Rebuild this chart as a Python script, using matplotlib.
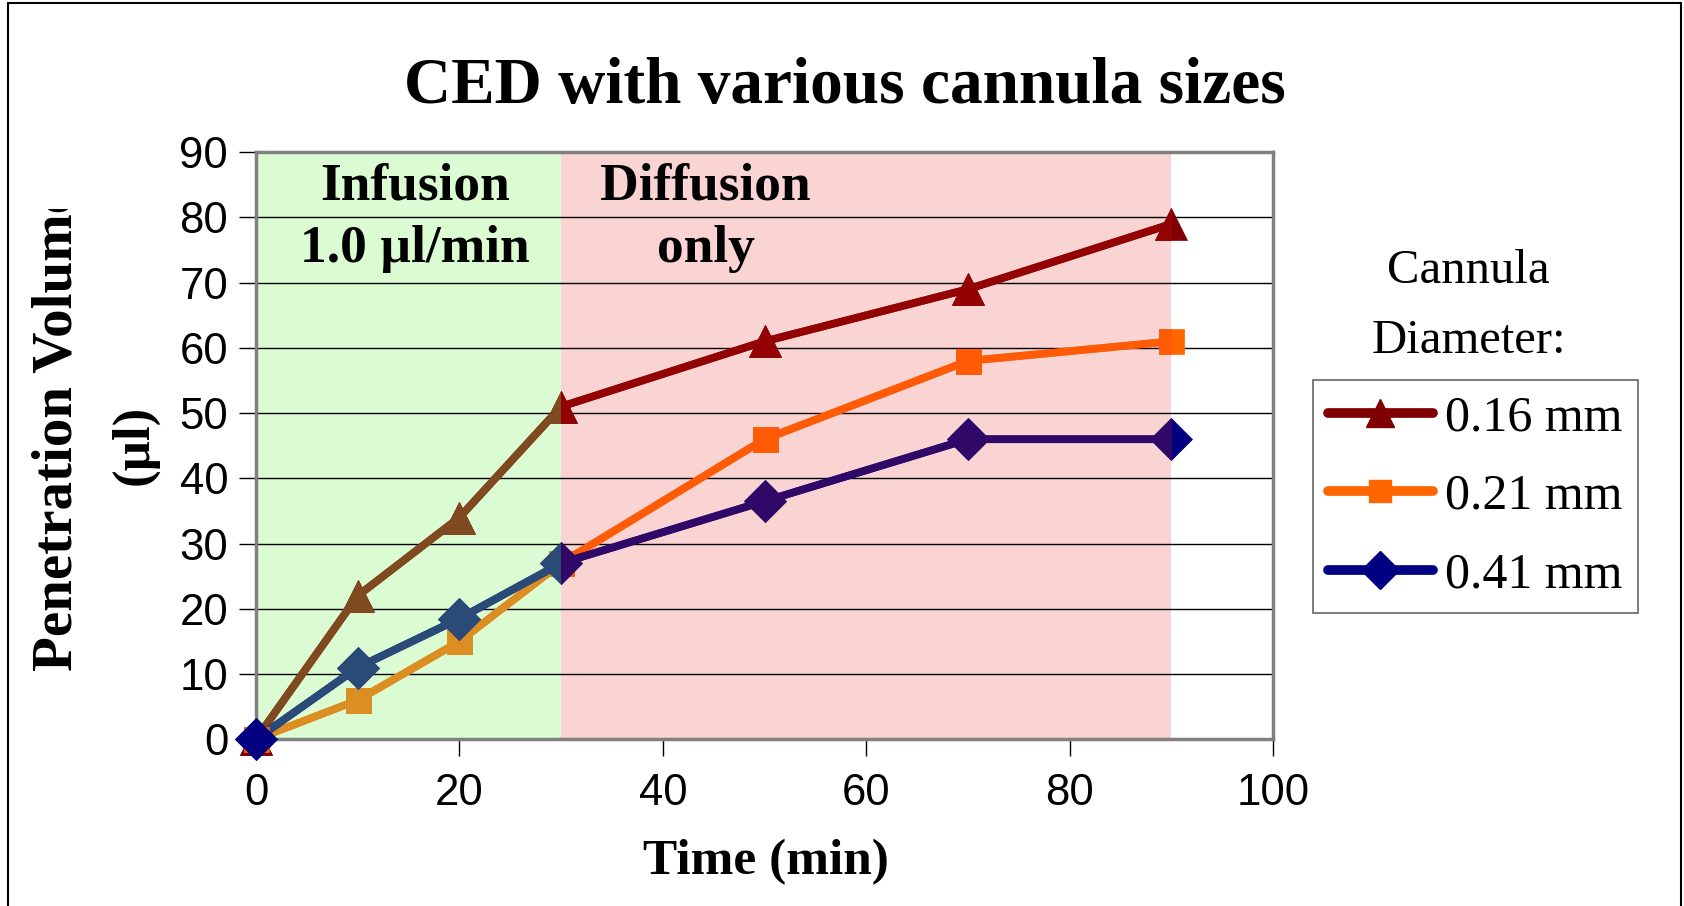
import matplotlib
matplotlib.use("Agg")
import matplotlib.pyplot as plt
from matplotlib.patches import Rectangle
from matplotlib.lines import Line2D
from matplotlib.transforms import Bbox, TransformedBbox

# ---- data ----
time_min = [0, 10, 20, 30, 50, 70, 90]
vol_016 = [0, 22, 34, 51, 61, 69, 79]
vol_021 = [0, 6, 15, 27, 46, 58, 61]
vol_041 = [0, 11, 18.5, 27, 36.5, 46, 46]
series_labels = ["0.16 mm", "0.21 mm", "0.41 mm"]
y_ticks = [0, 10, 20, 30, 40, 50, 60, 70, 80, 90]
x_ticks = [0, 20, 40, 60, 80, 100]
infusion_end = 30
diffusion_end = 90

# ---- styles ----
pure_colors = ["#800000", "#ff6600", "#000080"]
green_colors = ["#7f4a1f", "#db8f22", "#2a4b78"]
pink_colors = ["#930303", "#ff5a05", "#300868"]
markers = ["^", "s", "D"]
msizes = [23, 18, 21]

serif = ["Liberation Serif", "DejaVu Serif"]
sans = ["Liberation Sans", "DejaVu Sans"]

fig = plt.figure(figsize=(16.84, 9.06), dpi=100)
ax = fig.add_axes([0.152, 0.184, 0.604, 0.648])
ax.set_xlim(0, 100)
ax.set_ylim(0, 90)

green = Rectangle((0, 0), infusion_end, 90, facecolor="#dbfcd3", edgecolor="none", zorder=0.1)
pink = Rectangle((infusion_end, 0), diffusion_end - infusion_end, 90, facecolor="#fad3d3",
                 edgecolor="none", zorder=0.1)
ax.add_patch(green)
ax.add_patch(pink)

ax.set_axisbelow(True)
ax.set_yticks(y_ticks)
ax.set_xticks(x_ticks)
ax.yaxis.grid(True, color="black", lw=1)
ax.xaxis.grid(False)
for s in ax.spines.values():
    s.set_color("#808080")
    s.set_linewidth(2.5)

ax.tick_params(axis="y", direction="out", length=12, width=1, color="black", pad=8)
ax.tick_params(axis="x", direction="out", length=12, width=1, color="black", pad=12)
for lab in ax.get_xticklabels() + ax.get_yticklabels():
    lab.set_fontfamily(sans)
    lab.set_fontsize(31.5)

all_vals = [vol_016, vol_021, vol_041]
for i, vals in enumerate(all_vals):
    base = 3 + 3 * i
    ax.plot(time_min, vals, color=pure_colors[i], lw=5.5, marker=markers[i], ms=msizes[i],
            mec=pure_colors[i], mew=0.5, zorder=base, clip_on=False)
    lg, = ax.plot(time_min, vals, color=green_colors[i], lw=5.5, marker=markers[i], ms=msizes[i],
                  mec=green_colors[i], mew=0.5, zorder=base + 1, clip_on=True)
    lg.set_clip_path(green)
    lp, = ax.plot(time_min, vals, color=pink_colors[i], lw=5.5, marker=markers[i], ms=msizes[i],
                  mec=pink_colors[i], mew=0.5, zorder=base + 2, clip_on=True)
    lp.set_clip_path(pink)

# first points drawn pure on top
for i, vals in enumerate(all_vals):
    ax.plot([time_min[0]], [vals[0]], linestyle="none", marker=markers[i], ms=msizes[i],
            color=pure_colors[i], mec=pure_colors[i], mew=0.5, zorder=20 + i, clip_on=False)

# phase annotations
ax.text(15.6, 80.0, "Infusion\n1.0 µl/min", ha="center", va="center", fontsize=38.5,
        fontweight="bold", fontfamily=serif, zorder=30, linespacing=1.4)
ax.text(44.2, 80.0, "Diffusion\nonly", ha="center", va="center", fontsize=38.5,
        fontweight="bold", fontfamily=serif, zorder=30, linespacing=1.4)

# title
fig.text(0.502, 0.904, "CED with various cannula sizes", ha="center", va="center",
         fontsize=47, fontweight="bold", fontfamily=serif)

# axis labels
fig.text(0.455, 0.048, "Time (min)", ha="center", va="center", fontsize=37,
         fontweight="bold", fontfamily=serif)
clipbox = TransformedBbox(Bbox([[0, 0], [1, 0.769]]), fig.transFigure)
t1 = fig.text(0.034, 0.526, "Penetration Volume", ha="center", va="center", rotation=90,
              fontsize=41, fontweight="bold", fontfamily=serif)
t1.set_clip_box(clipbox)
t1.set_clip_on(True)
fig.text(0.080, 0.509, "(µl)", ha="center", va="center", rotation=90,
         fontsize=38, fontweight="bold", fontfamily=serif)

# legend title text
fig.text(0.872, 0.662, "Cannula\nDiameter:", ha="center", va="center", fontsize=35,
         fontfamily=serif, linespacing=1.75)

handles = [Line2D([0], [0], color=pure_colors[i], lw=7, marker=markers[i], ms=msizes[i] * 0.9,
                  mec=pure_colors[i], solid_capstyle="round") for i in range(3)]
leg = fig.legend(handles, series_labels, loc="center", bbox_to_anchor=(0.876, 0.452),
                 prop={"family": serif, "size": 36}, frameon=True, fancybox=False,
                 edgecolor="#404040", handlelength=2.1, handletextpad=0.25,
                 labelspacing=0.64, borderpad=0.3, borderaxespad=0)
leg.get_frame().set_linewidth(1.2)

# outer chart border
fig.add_artist(Rectangle((0.005, -0.01), 0.993, 1.007, transform=fig.transFigure,
                         fill=False, edgecolor="black", lw=1.5, clip_on=False))

fig.savefig("out.png", dpi=100)
